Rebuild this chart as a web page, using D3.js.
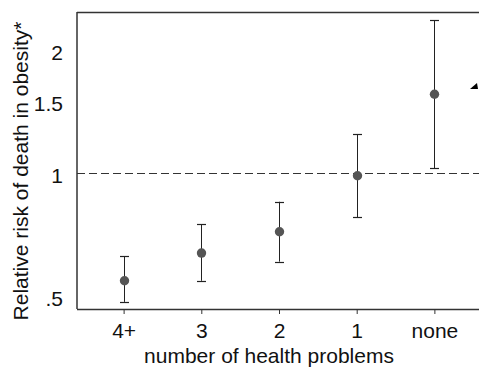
<!DOCTYPE html>
<html><head><meta charset="utf-8">
<script src="https://cdn.jsdelivr.net/npm/d3@7"></script>
<style>body{margin:0;background:#fff}svg{display:block;font-family:"Liberation Sans",Arial,sans-serif}</style>
</head><body><svg id="c" width="479" height="368"></svg>
<script>
const categories = ["4+", "3", "2", "1", "none"];
const estimates = [0.546, 0.638, 0.719, 0.985, 1.556];
const lower = [0.485, 0.546, 0.608, 0.780, 1.027];
const upper = [0.627, 0.750, 0.851, 1.245, 2.36];
const yTicks = [0.5, 1, 1.5, 2];
const yTickLabels = [".5", "1", "1.5", "2"];
const refValue = 1;

const FS = 21;
const svg = d3.select("#c");
const pl = 77, pr = 479, pt = 12, pb = 309;
const x = d3.scalePoint().domain(categories).range([pl, 481]).padding(0.6);
const y = d3.scaleLog().domain([0.466, 2.47]).range([pb, pt]);
const crisp = v => Math.round(v) + 0.5;

// frame
svg.append("line").attr("x1", pl).attr("x2", pr).attr("y1", pt + 0.5).attr("y2", pt + 0.5).attr("stroke", "#333").attr("stroke-width", 1.3);
svg.append("line").attr("x1", pl).attr("x2", pl).attr("y1", pt).attr("y2", pb).attr("stroke", "#333").attr("stroke-width", 1.5);

// x axis
const xAxis = svg.append("g").attr("transform", `translate(0,${pb})`)
  .call(d3.axisBottom(x).tickSize(5).tickPadding(9).tickSizeOuter(0));
xAxis.select(".domain").attr("stroke", "#333").attr("stroke-width", 1.5).attr("d", `M${pl},0.5H${pr}`);
xAxis.selectAll(".tick line").attr("stroke", "#333");
xAxis.selectAll("text").attr("font-size", FS).attr("fill", "#111").attr("font-family", "Liberation Sans, Arial, sans-serif");

// y axis labels
const yAxis = svg.append("g").attr("transform", `translate(${pl},0)`)
  .call(d3.axisLeft(y).tickValues(yTicks).tickFormat((d, i) => yTickLabels[i]).tickSize(0).tickPadding(14));
yAxis.select(".domain").remove();
yAxis.selectAll("text").attr("font-size", FS).attr("fill", "#111").attr("dy", "0.45em").attr("font-family", "Liberation Sans, Arial, sans-serif");

// reference line
svg.append("line").attr("x1", pl).attr("x2", pr).attr("y1", crisp(y(refValue))).attr("y2", crisp(y(refValue)))
  .attr("stroke", "#333").attr("stroke-width", 1).attr("stroke-dasharray", "8,4");

// error bars
const g = svg.append("g");
categories.forEach((c, i) => {
  const cx = crisp(x(c));
  g.append("line").attr("x1", cx).attr("x2", cx).attr("y1", y(lower[i])).attr("y2", y(upper[i])).attr("stroke", "#222").attr("stroke-width", 1);
  [lower[i], upper[i]].forEach(v => {
    g.append("line").attr("x1", cx - 4.5).attr("x2", cx + 4.5).attr("y1", crisp(y(v))).attr("y2", crisp(y(v))).attr("stroke", "#222").attr("stroke-width", 1.2);
  });
  g.append("circle").attr("cx", cx).attr("cy", y(estimates[i])).attr("r", 4.7).attr("fill", "#555");
});

// axis titles
svg.append("text").attr("x", 269).attr("y", 363).attr("text-anchor", "middle")
  .attr("font-size", FS).attr("fill", "#111").text("number of health problems");
svg.append("text").attr("transform", "translate(28,171) rotate(-90)").attr("text-anchor", "middle")
  .attr("font-size", FS).attr("fill", "#111").text("Relative risk of death in obesity*");

// arrow head fragment at the right edge
svg.append("path").attr("d", "M470,89L477,83L478,89Z").attr("fill", "#000");
</script></body></html>
